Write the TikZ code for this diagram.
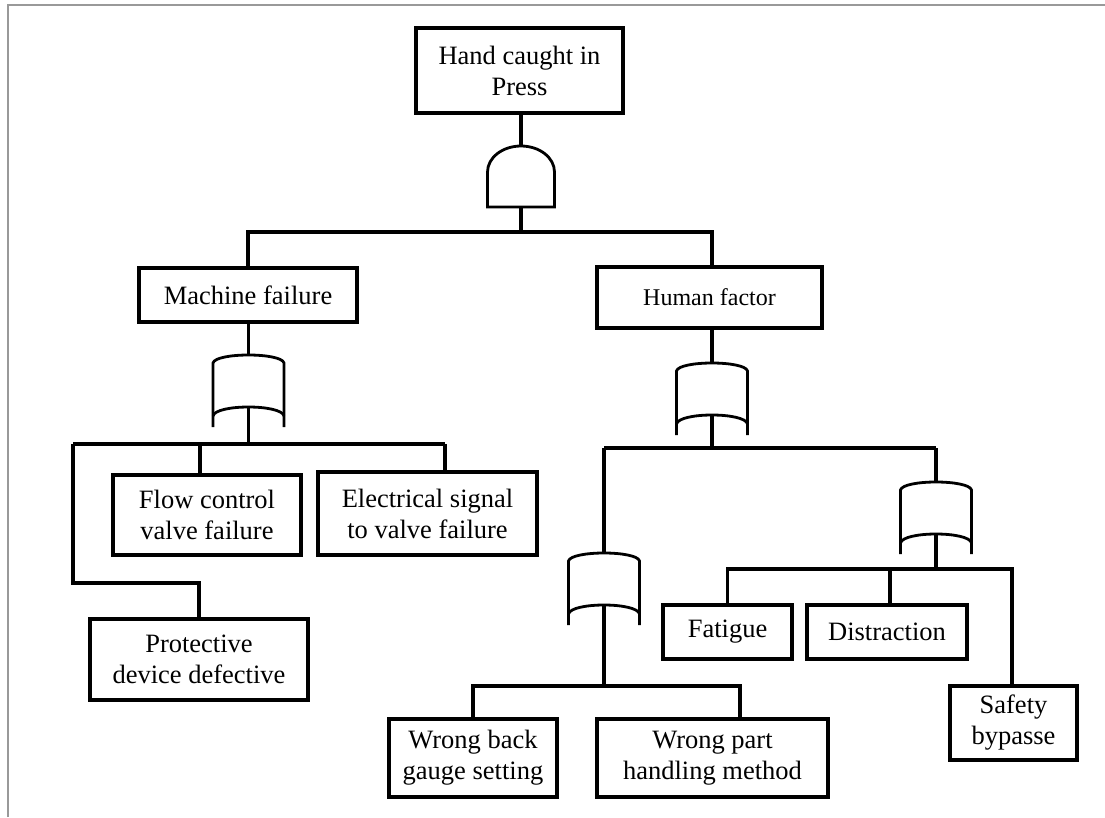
\documentclass[tikz,border=0pt]{standalone}
\usepackage{fontspec}
\setmainfont{Liberation Serif}
\begin{document}
\begin{tikzpicture}[x=1pt,y=-1pt,
  box/.style={draw, line width=3.2pt, align=center, inner sep=0pt,
    font=\fontsize{26.5}{31}\selectfont},
  conn/.style={line width=3.4pt},
  gateline/.style={line width=2.8pt},
  orgate/.pic={
    \draw[gateline] (-35.5,72) -- (-35.5,8) .. controls (-33,-2.67) and (33,-2.67) .. (35.5,8) -- (35.5,72);
    \draw[gateline] (-35.5,61) .. controls (-33,49) and (33,49) .. (35.5,61);
    \coordinate (-in) at (0,0);
    \coordinate (-out) at (0,52);
  },
  andgate/.pic={
    \draw[gateline] (-33.5,61) -- (-33.5,26) arc[start angle=180,end angle=360,x radius=33.5,y radius=26] -- (33.5,61) -- cycle;
    \coordinate (-in) at (0,0);
    \coordinate (-out) at (0,61);
  }]
\useasboundingbox (0,0) rectangle (1105,817);
\draw[gray!80, line width=1.3pt] (8,817) -- (8,5) -- (1105,5);

% boxes
\node[box, minimum width=207, minimum height=85] (top) at (519.5,70.5) {Hand caught in\\Press};
\node[box, minimum width=218, minimum height=54] (machine) at (248,295) {Machine failure};
\node[box, minimum width=225, minimum height=61, font=\fontsize{24}{28}\selectfont] (human) at (709.5,297.5) {Human factor};
\node[box, minimum width=188, minimum height=80] (flow) at (207,515) {Flow control\\valve failure};
\node[box, minimum width=219, minimum height=83] (elec) at (427.5,513.5) {Electrical signal\\to valve failure};
\node[box, minimum width=218, minimum height=81] (prot) at (199,659.5) {Protective\\device defective};
\node[box, minimum width=168, minimum height=78] (wback) at (473,758) {Wrong back\\gauge setting};
\node[box, minimum width=231, minimum height=78] (wpart) at (712.5,758) {Wrong part\\handling method};
\node[box, minimum width=129, minimum height=54] (fat) at (727.5,632) {Fatigue};
\node[box, minimum width=160, minimum height=54] (dist) at (887,632) {Distraction};
\node[box, minimum width=127, minimum height=74] (safe) at (1013.5,723) {Safety\\bypasse};

% gates
\pic (g0) at (521,146) {andgate};
\pic (g1) at (248.5,355) {orgate};
\pic (g2) at (712,363) {orgate};
\pic (g3) at (604,553) {orgate};
\pic (g4) at (936,482) {orgate};

% bus rows
\coordinate (r1) at (0,232);
\coordinate (r2) at (0,444);
\coordinate (r3) at (0,448);
\coordinate (r4) at (0,686);
\coordinate (r5) at (0,569);
\coordinate (r6) at (0,583);
\coordinate (c73) at (73,0);
\coordinate (c200) at (200,0);
\coordinate (c445) at (445,0);
\coordinate (c740) at (740,0);
\coordinate (c890) at (890,0);
\coordinate (c1012) at (1012,0);

% connectors
\draw[conn] (top.south -| g0-in) -- (g0-in);
\draw[conn] (g0-out) -- (g0-out |- r1);
\draw[conn] (machine.north) -- (machine.north |- r1) -- (g2-in |- r1) -- (g2-in |- human.north);

\draw[conn] (machine.south -| g1-in) -- (g1-in);
\draw[conn] (g1-out) -- (g1-out |- r2);
\draw[conn] (c73 |- r2) -- (c445 |- r2);
\draw[conn] (c200 |- r2) -- (c200 |- flow.north);
\draw[conn] (c445 |- r2) -- (c445 |- elec.north);
\draw[conn] (c73 |- r2) -- (c73 |- r6) -- (prot.north |- r6) -- (prot.north);

\draw[conn] (human.south -| g2-in) -- (g2-in);
\draw[conn] (g2-out) -- (g2-out |- r3);
\draw[conn] (g3-in |- r3) -- (g4-in |- r3);
\draw[conn] (g3-in |- r3) -- (g3-in);
\draw[conn] (g4-in |- r3) -- (g4-in);

\draw[conn] (g3-out) -- (g3-out |- r4);
\draw[conn] (wback.north) -- (wback.north |- r4) -- (c740 |- r4) -- (c740 |- wpart.north);

\draw[conn] (g4-out) -- (g4-out |- r5);
\draw[conn] (fat.north) -- (fat.north |- r5) -- (c1012 |- r5) -- (c1012 |- safe.north);
\draw[conn] (c890 |- r5) -- (c890 |- dist.north);
\end{tikzpicture}
\end{document}
